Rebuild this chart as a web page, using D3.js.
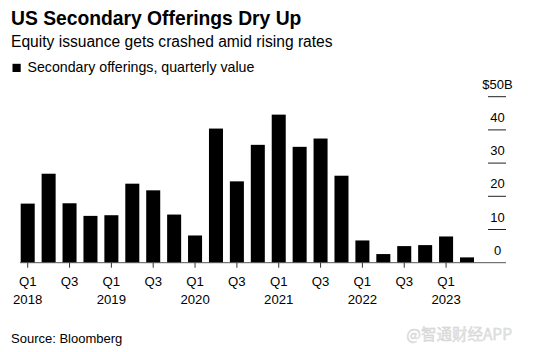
<!DOCTYPE html>
<html><head><meta charset="utf-8">
<script src="https://cdn.jsdelivr.net/npm/d3@7"></script>
<style>body{margin:0;background:#fff}svg{display:block;font-family:"Liberation Sans",Arial,Helvetica,sans-serif}</style>
</head><body><svg id="c" width="535" height="352"></svg>
<script>
const quarters = ["2018Q1","2018Q2","2018Q3","2018Q4","2019Q1","2019Q2","2019Q3","2019Q4","2020Q1","2020Q2","2020Q3","2020Q4","2021Q1","2021Q2","2021Q3","2021Q4","2022Q1","2022Q2","2022Q3","2022Q4","2023Q1","2023Q2"];
const values = [17.8,26.8,17.9,14.1,14.3,23.8,21.8,14.5,8.2,40.4,24.5,35.5,44.6,34.9,37.4,26.2,6.7,2.6,5.0,5.3,7.9,1.6];
const yTicks = [0,10,20,30,40,50];
const yTickLabels = ["0","10","20","30","40","$50B"];
const title = "US Secondary Offerings Dry Up";
const subtitle = "Equity issuance gets crashed amid rising rates";
const legendLabel = "Secondary offerings, quarterly value";
const source = "Source: Bloomberg";

const svg = d3.select("#c");
const x = d3.scaleBand().domain(quarters).range([20.7, 474]).paddingInner(0.33).paddingOuter(0);
const y = d3.scaleLinear().domain([0,50]).range([262.7, 96.7]);

svg.append("text").attr("x",11).attr("y",25).attr("font-size",19.3).attr("font-weight","bold").attr("fill","#000").text(title);
svg.append("text").attr("x",11).attr("y",46.7).attr("font-size",15.6).attr("fill","#000").text(subtitle);
svg.append("rect").attr("x",12.5).attr("y",63.8).attr("width",8.2).attr("height",8.2).attr("fill","#000");
svg.append("text").attr("x",27.5).attr("y",71.7).attr("font-size",14.2).attr("fill","#000").text(legendLabel);

// bars
svg.append("g").selectAll("rect").data(quarters).join("rect")
  .attr("x", d=>x(d)).attr("width", x.bandwidth())
  .attr("y", (d,i)=>y(values[i])).attr("height",(d,i)=>y(0)-y(values[i]))
  .attr("fill","#000");

// baseline
svg.append("line").attr("x1",20).attr("x2",506).attr("y1",y(0)).attr("y2",y(0)).attr("stroke","#555").attr("stroke-width",1);

// y axis ticks on right
const yg = svg.append("g");
yg.selectAll("line").data(yTicks.slice(1)).join("line")
  .attr("x1",488).attr("x2",506).attr("y1",d=>y(d)).attr("y2",d=>y(d)).attr("stroke","#222").attr("stroke-width",1);
yg.selectAll("text").data(yTicks).join("text")
  .attr("x",497.5).attr("y",d=>y(d)-8).attr("text-anchor","middle").attr("font-size",13).attr("fill","#000")
  .text((d,i)=>yTickLabels[i]);

// x axis
const xTickQ = quarters.filter(q=>q.endsWith("Q1")||q.endsWith("Q3"));
const xg = svg.append("g");
xg.selectAll("line").data(xTickQ).join("line")
  .attr("x1",d=>x(d)+x.bandwidth()/2).attr("x2",d=>x(d)+x.bandwidth()/2)
  .attr("y1",y(0)).attr("y2",y(0)+5).attr("stroke","#333").attr("stroke-width",1);
xg.selectAll("text.q").data(xTickQ).join("text").attr("class","q")
  .attr("x",d=>x(d)+x.bandwidth()/2).attr("y",286).attr("text-anchor","middle").attr("font-size",13.2).attr("fill","#000")
  .text(d=>d.slice(4));
xg.selectAll("text.yr").data(xTickQ.filter(q=>q.endsWith("Q1"))).join("text").attr("class","yr")
  .attr("x",d=>x(d)+x.bandwidth()/2).attr("y",303.5).attr("text-anchor","middle").attr("font-size",13.2).attr("fill","#000")
  .text(d=>d.slice(0,4));

svg.append("text").attr("x",11).attr("y",343.3).attr("font-size",13).attr("fill","#000").text(source);
svg.append("text").attr("x",512).attr("y",340).attr("text-anchor","end").attr("font-size",15.5)
  .attr("font-family","'Noto Sans CJK SC',sans-serif").attr("fill","#e6e6e6").attr("stroke","#cfcfcf").attr("stroke-width",0.4).text("@智通财经APP");
</script></body></html>
